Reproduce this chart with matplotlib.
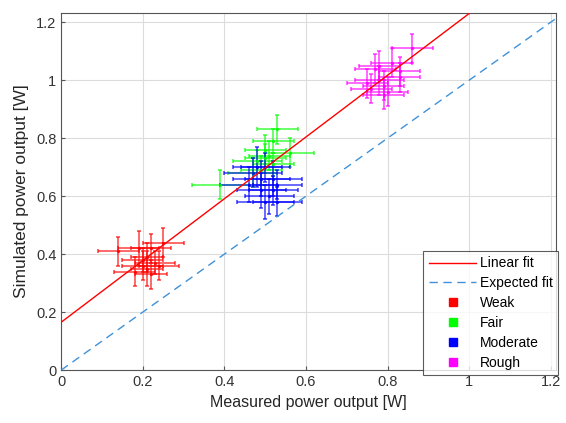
import matplotlib.pyplot as plt
import numpy as np
from matplotlib.lines import Line2D

plt.rcParams["font.family"] = ["Liberation Sans", "DejaVu Sans"]

# --- Measured vs simulated power output per sea state ---
weak_x = [0.14, 0.19, 0.22, 0.25, 0.20, 0.21, 0.23, 0.18, 0.22, 0.20, 0.24, 0.21]
weak_y = [0.41, 0.42, 0.42, 0.44, 0.36, 0.35, 0.37, 0.34, 0.33, 0.38, 0.36, 0.39]
weak_xerr = [0.05, 0.05, 0.05, 0.05, 0.05, 0.04, 0.05, 0.05, 0.04, 0.05, 0.05, 0.04]
weak_yerr = [0.05, 0.06, 0.05, 0.05, 0.05, 0.06, 0.04, 0.05, 0.05, 0.04, 0.05, 0.05]

fair_x = [0.39, 0.53, 0.52, 0.56, 0.50, 0.48, 0.51, 0.49, 0.52, 0.47, 0.50]
fair_y = [0.64, 0.83, 0.79, 0.75, 0.76, 0.72, 0.74, 0.69, 0.71, 0.68, 0.73]
fair_xerr = [0.07, 0.05, 0.05, 0.06, 0.05, 0.06, 0.05, 0.05, 0.05, 0.06, 0.05]
fair_yerr = [0.05, 0.05, 0.04, 0.05, 0.05, 0.04, 0.05, 0.05, 0.04, 0.05, 0.05]

moderate_x = [0.48, 0.52, 0.49, 0.50, 0.53, 0.47, 0.51, 0.49, 0.52, 0.50, 0.46, 0.53]
moderate_y = [0.70, 0.66, 0.62, 0.58, 0.64, 0.68, 0.60, 0.66, 0.62, 0.70, 0.64, 0.58]
moderate_xerr = [0.06, 0.07, 0.06, 0.07, 0.06, 0.07, 0.06, 0.07, 0.06, 0.06, 0.07, 0.06]
moderate_yerr = [0.07, 0.06, 0.06, 0.06, 0.05, 0.05, 0.06, 0.06, 0.05, 0.05, 0.06, 0.05]

rough_x = [0.86, 0.78, 0.81, 0.83, 0.77, 0.78, 0.79, 0.76, 0.79, 0.83, 0.80, 0.75]
rough_y = [1.11, 1.05, 1.06, 1.03, 1.04, 1.00, 0.98, 0.97, 0.95, 1.01, 0.96, 0.99]
rough_xerr = [0.05, 0.05, 0.05, 0.05, 0.05, 0.06, 0.05, 0.05, 0.05, 0.05, 0.05, 0.05]
rough_yerr = [0.05, 0.05, 0.05, 0.05, 0.05, 0.05, 0.05, 0.05, 0.05, 0.05, 0.05, 0.05]

# --- Fit lines ---
fit_slope = 1.065
fit_intercept = 0.165
fit_x = [0.0, 1.0]
expected_x = [0.0, 1.25]

groups = [
    ("Weak", "#ff0000", weak_x, weak_y, weak_xerr, weak_yerr),
    ("Fair", "#00ff00", fair_x, fair_y, fair_xerr, fair_yerr),
    ("Moderate", "#0000ff", moderate_x, moderate_y, moderate_xerr, moderate_yerr),
    ("Rough", "#ff00ff", rough_x, rough_y, rough_xerr, rough_yerr),
]

fig = plt.figure(figsize=(5.66, 4.23), dpi=100)
ax = fig.add_axes([0.108, 0.125, 0.874, 0.844])

for name, color, gx, gy, gxe, gye in groups:
    ax.errorbar(gx, gy, xerr=gxe, yerr=gye, fmt=".", color=color, markersize=3,
                elinewidth=1.1, capsize=1.5, capthick=1.1, alpha=0.75, zorder=3)

fx = np.array(fit_x)
ax.plot(fx, fit_intercept + fit_slope * fx, color="#ff0000", linewidth=1, zorder=4)
ax.plot(expected_x, expected_x, color="#3f92d8", linewidth=1, linestyle=(0, (6, 4)), zorder=4)

ax.set_xlim(0, 1.212)
ax.set_ylim(0, 1.231)
ax.set_xticks([0, 0.2, 0.4, 0.6, 0.8, 1, 1.2])
ax.set_xticklabels(["0", "0.2", "0.4", "0.6", "0.8", "1", "1.2"])
ax.set_yticks([0, 0.2, 0.4, 0.6, 0.8, 1, 1.2])
ax.set_yticklabels(["0", "0.2", "0.4", "0.6", "0.8", "1", "1.2"])
ax.grid(True, color="#dcdcdc", linewidth=0.8)
ax.set_axisbelow(True)
ax.tick_params(direction="in", length=3, colors="#555555", labelcolor="#333333", labelsize=10.5)
for sp in ax.spines.values():
    sp.set_color("#555555")
    sp.set_linewidth(0.8)

ax.set_xlabel("Measured power output [W]", fontsize=11.5, color="#262626", labelpad=4)
ax.set_ylabel("Simulated power output [W]", fontsize=12.5, color="#262626", labelpad=5)

handles = [
    Line2D([], [], color="#ff0000", linewidth=1),
    Line2D([], [], color="#3f92d8", linewidth=1, linestyle=(0, (6, 4))),
]
labels = ["Linear fit", "Expected fit"]
for name, color, *_ in groups:
    handles.append(Line2D([], [], color=color, marker="s", linestyle="none", markersize=6))
    labels.append(name)

leg = fig.legend(handles, labels, loc="lower right", bbox_to_anchor=(0.986, 0.113),
                 fontsize=10, frameon=True, fancybox=False, borderpad=0.4, borderaxespad=0,
                 labelspacing=0.42, handlelength=3.4, handletextpad=0.25)
leg.get_frame().set_edgecolor("#333333")
leg.get_frame().set_linewidth(0.8)
leg.set_zorder(10)

plt.savefig("out.png", dpi=100)
